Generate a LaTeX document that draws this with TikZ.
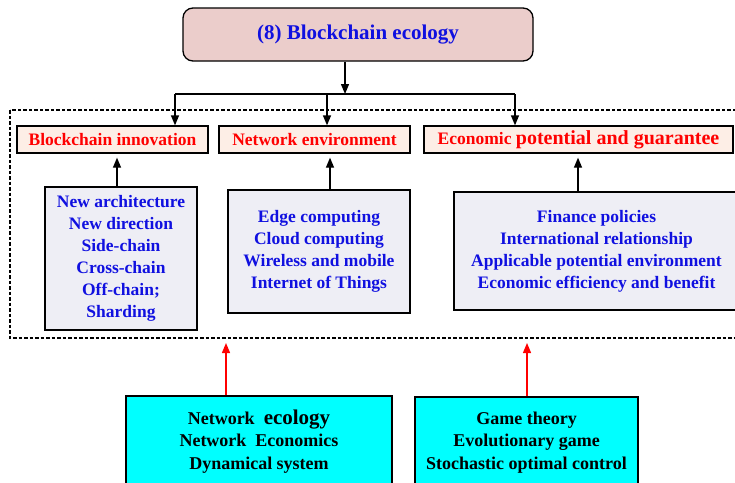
\documentclass[tikz,border=0pt]{standalone}
\usepackage{fontspec}
\setmainfont{Liberation Serif}
\usepackage{xcolor}
\usetikzlibrary{arrows.meta, positioning}
\definecolor{toppink}{HTML}{EBCDCB}
\definecolor{catpeach}{HTML}{FDEEE6}
\definecolor{lowgray}{HTML}{EEEEF5}
\definecolor{txtblue}{HTML}{1010E0}
\definecolor{basecyan}{HTML}{00FFFF}

\begin{document}
\begin{tikzpicture}[
                x=1pt, y=-1pt,
                line width=1.3pt,
                >={Triangle[length=10pt, width=8pt]},
                topbox/.style={draw, rounded corners=10pt, fill=toppink, minimum width=350pt, minimum height=53pt, font=\bfseries\fontsize{21}{24}\selectfont, text=txtblue},
                catbox/.style={draw, fill=catpeach, minimum height=27pt, inner sep=2pt, font=\bfseries\fontsize{17.5}{20}\selectfont, text=red},
                listbox/.style={draw, fill=lowgray, align=center, font=\bfseries\fontsize{17.5}{22}\selectfont, text=txtblue},
                basebox/.style={draw, fill=basecyan, align=center, font=\bfseries\fontsize{18}{22.5}\selectfont, text=black}
            ]
                \clip (0,0) rectangle (735,482);

                % title
                \node[topbox] (eco) at (358,34.5) {(8) Blockchain ecology};
                \coordinate (fork) at (345,94);

                % dashed frame and the three categories
                \draw[line width=1.2pt, dash pattern=on 3.5pt off 2pt] (10,110) rectangle (750,338);
                \node[catbox, minimum width=191pt] (innov) at (112.5,139.5) {Blockchain innovation};
                \node[catbox, minimum width=191pt] (netenv) at (314.5,139.5) {Network environment};
                \node[catbox, minimum width=309pt] (econ) at (578.5,139.5) {Economic {\fontsize{20}{20}\selectfont potential and guarantee}};

                % contents of each category
                \node[listbox, minimum width=152pt, minimum height=143pt] (innovlist) at (121,258.5) {New architecture\\New direction\\Side-chain\\Cross-chain\\Off-chain;\\Sharding};
                \node[listbox, minimum width=182pt, minimum height=123pt] (netlist) at (319,251.5) {Edge computing\\Cloud computing\\Wireless and mobile\\Internet of Things};
                \node[listbox, minimum width=285pt, minimum height=118pt] (econlist) at (596.5,251) {Finance policies\\International relationship\\Applicable potential environment\\Economic efficiency and benefit};

                % theory foundations
                \node[basebox, minimum width=266pt, minimum height=91pt] (netbase) at (259,441.5) {Network\ \ {\fontsize{21}{22.5}\selectfont ecology}\\Network\ \ Economics\\Dynamical system};
                \node[basebox, minimum width=223pt, minimum height=91pt] (gamebase) at (526.5,442.5) {Game theory\\Evolutionary game\\Stochastic optimal control};
                \coordinate (netin) at (226,343);
                \coordinate (gamein) at (527,343);

                % top-down arrows
                \draw[->] (eco.south -| fork) -- (fork);
                \draw (175,94) -- (515,94);
                \draw[->] (175,94) -- (innov.north -| 175,0);
                \draw[->] (327,94) -- (netenv.north -| 327,0);
                \draw[->] (515,94) -- (econ.north -| 515,0);

                % bottom-up arrows
                \draw[->] (innovlist.north -| 117,0) -- ([yshift=-4pt]innov.south -| 117,0);
                \draw[->] (netlist.north -| 330,0) -- ([yshift=-4pt]netenv.south -| 330,0);
                \draw[->] (econlist.north -| 578,0) -- ([yshift=-4pt]econ.south -| 578,0);
                \draw[->, red] (netbase.north -| netin) -- (netin);
                \draw[->, red] (gamebase.north -| gamein) -- (gamein);
            \end{tikzpicture}
\end{document}
